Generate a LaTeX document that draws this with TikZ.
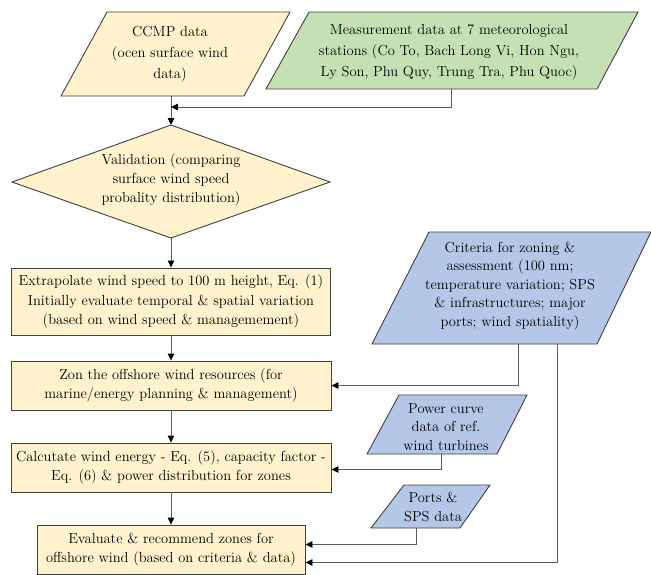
\documentclass[tikz,border=0pt]{standalone}
\usetikzlibrary{calc,arrows.meta}
\definecolor{yelfill}{HTML}{FFF2CC}
\definecolor{grnfill}{HTML}{C5E0B4}
\definecolor{blufill}{HTML}{B4C7E7}
\definecolor{edge}{HTML}{404040}

\begin{document}
\begin{tikzpicture}[x=1pt,y=-1pt,
  shp/.style={draw=edge,line width=.9pt},
  txt/.style={align=center,inner sep=0pt,font=\fontsize{14.5}{19.5}\selectfont},
  box/.style={shp,fill=yelfill,align=center,inner sep=0pt,font=\fontsize{14.5}{19.5}\selectfont},
  arr/.style={draw=black!65,line width=.9pt,-{Triangle[length=7pt,width=6.5pt,black]}}]
\useasboundingbox (0,0) rectangle (651,574);
% input data
\filldraw[shp,fill=yelfill] (107,12)--(290,12)--(244,96)--(61,96)--cycle; \coordinate (cB) at (171,96);
\node[txt,font=\fontsize{14.5}{21}\selectfont] (ccmp) at (170,54) {CCMP data\\(ocen surface wind\\data)};
\filldraw[shp,fill=grnfill] (309,12)--(638,12)--(597,89)--(266,89)--cycle; \coordinate (gB) at (451,89);
\node[txt,font=\fontsize{14.5}{21}\selectfont] (meas) at (449,52) {Measurement data at 7 meteorological\\stations (Co To, Bach Long Vi, Hon Ngu,\\Ly Son, Phu Quy, Trung Tra, Phu Quoc)};
\coordinate (mj) at (171,107);
% validation
\filldraw[shp,fill=yelfill] (171,125)--(330,182)--(171,238)--(12,182)--cycle; \coordinate (vT) at (171,125); \coordinate (vB) at (171,238);
\node[txt,font=\fontsize{14.5}{19}\selectfont] (valid) at (171,180) {Validation (comparing\\surface wind speed\\probality distribution)};
% main steps
\node[box,minimum width=319pt,minimum height=67pt] (extra) at (171,301.5) {Extrapolate wind speed to 100 m height, Eq. (1)\\Initially evaluate temporal \& spatial variation\\(based on wind speed \& managemement)};
\node[box,minimum width=320pt,minimum height=49pt] (zone) at (171,385.5) {Zon the offshore wind resources (for\\marine/energy planning \& management)};
\node[box,minimum width=320pt,minimum height=49pt] (calcu) at (171,467.5) {Calcutate wind energy - Eq. (5), capacity factor -\\Eq. (6) \& power distribution for zones};
\node[box,minimum width=268pt,minimum height=49pt] (eval) at (171,549.5) {Evaluate \& recommend zones for\\offshore wind (based on criteria \& data)};
% side inputs
\filldraw[shp,fill=blufill] (429,232)--(651,232)--(597,344)--(372,344)--cycle; \coordinate (k1) at (518,344); \coordinate (k2) at (557,344);
\node[txt,font=\fontsize{14.5}{18.5}\selectfont] (crit) at (510,286) {Criteria for zoning \&\\assessment (100 nm;\\temperature variation; SPS\\\& infrastructures; major\\ports; wind spatiality)};
\filldraw[shp,fill=blufill] (399,395)--(527,395)--(497,454)--(367,454)--cycle; \coordinate (pB) at (441,454);
\node[txt,font=\fontsize{14.5}{18.5}\selectfont] (power) at (446,427) {Power curve\\data of ref.\\wind turbines};
\filldraw[shp,fill=blufill] (404,485)--(490,485)--(460,528)--(371,528)--cycle; \coordinate (sB) at (416,528);
\node[txt] (ports) at (433,507) {Ports \&\\SPS data};
% connectors
\draw[arr] (cB)--(vT); \draw[arr] (gB)|-(mj);
\draw[arr] (vB)--(extra); \draw[arr] (extra)--(zone); \draw[arr] (zone)--(calcu); \draw[arr] (calcu)--(eval);
\draw[arr] (k1)|-(zone); \draw[arr] (pB)|-([yshift=-2pt]calcu.east);
\draw[arr] (sB)|-([yshift=5pt]eval.east); \draw[arr] (k2)|-([yshift=-13pt]eval.east);
\end{tikzpicture}
\end{document}
